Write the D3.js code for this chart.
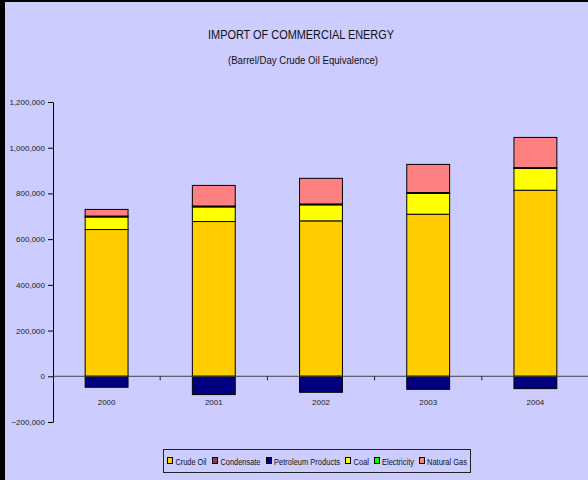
<!DOCTYPE html>
<html>
<head>
<meta charset="utf-8">
<script src="https://cdn.jsdelivr.net/npm/d3@7"></script>
<style>
  html, body { margin: 0; padding: 0; background: #000; }
  svg { display: block; }
  text { font-family: "Liberation Sans", Arial, sans-serif; }
</style>
</head>
<body>
<script>
// Import of commercial energy, barrels/day crude oil equivalence
const years = ["2000", "2001", "2002", "2003", "2004"];
const crudeOil = [642000, 677000, 680000, 709000, 814000];
const condensate = [0, 0, 0, 0, 0];
const petroleumProducts = [-48000, -80000, -70000, -57000, -54000];
const coal = [55000, 64000, 70000, 91000, 95000];
const electricity = [4000, 4000, 4000, 4000, 4000];
const naturalGas = [29000, 90000, 112000, 123000, 132000];
const yTicks = [-200000, 0, 200000, 400000, 600000, 800000, 1000000, 1200000];

const seriesNames = ["Crude Oil", "Condensate", "Petroleum Products", "Coal", "Electricity", "Natural Gas"];
const seriesValues = [crudeOil, condensate, petroleumProducts, coal, electricity, naturalGas];
const seriesColors = ["#FFCC00", "#993366", "#000080", "#FFFF00", "#00FF00", "#FF8080"];

const W = 588, H = 480;
const svg = d3.select("body").append("svg").attr("width", W).attr("height", H);

// chart area background (dark frame shows on the left and top)
svg.append("rect").attr("x", 5).attr("y", 2).attr("width", W - 5).attr("height", H - 2).attr("fill", "#CCCCFF");

svg.append("text").attr("x", 301).attr("y", 39).attr("text-anchor", "middle")
  .attr("font-size", 12).attr("fill", "#111")
  .attr("textLength", 186).attr("lengthAdjust", "spacingAndGlyphs")
  .text("IMPORT OF COMMERCIAL ENERGY");
svg.append("text").attr("x", 303).attr("y", 64).attr("text-anchor", "middle")
  .attr("font-size", 10).attr("fill", "#111")
  .attr("textLength", 150).attr("lengthAdjust", "spacingAndGlyphs")
  .text("(Barrel/Day Crude Oil Equivalence)");

const x0 = 53, x1 = 589;
const x = d3.scaleBand().domain(years).range([x0, x1]).paddingInner(0).paddingOuter(0);
const y = d3.scaleLinear().domain([-200000, 1200000]).range([422, 102]);

// stacked segments, positives upward and negatives downward from zero
const table = years.map((yr, i) => {
  const row = { year: yr };
  seriesNames.forEach((n, k) => row[n] = seriesValues[k][i]);
  return row;
});
const stack = d3.stack().keys(seriesNames).offset(d3.stackOffsetDiverging);
const layers = stack(table);

const barW = x.bandwidth() * 0.4;
const g = svg.append("g");
layers.forEach((layer, k) => {
  g.selectAll(null).data(layer.filter(d => d[1] !== d[0])).enter().append("rect")
    .attr("x", d => x(d.data.year) + (x.bandwidth() - barW) / 2)
    .attr("width", barW)
    .attr("y", d => y(Math.max(d[0], d[1])))
    .attr("height", d => Math.abs(y(d[0]) - y(d[1])))
    .attr("fill", seriesColors[k])
    .attr("stroke", "#000")
    .attr("stroke-width", 1);
});

// y axis
const yAxis = d3.axisLeft(y).tickValues(yTicks).tickSize(5).tickSizeOuter(0)
  .tickFormat(d3.format(","));
const ya = svg.append("g").attr("transform", `translate(${x0},0)`).call(yAxis);
ya.select(".domain").attr("stroke", "#000");
ya.selectAll(".tick line").attr("stroke", "#000");
ya.selectAll(".tick text").attr("font-size", 8).attr("fill", "#222")
  .attr("font-family", "'Liberation Sans', Arial, sans-serif").attr("x", -8);

// zero baseline with category ticks
const xa = svg.append("g").attr("transform", `translate(0,${y(0)})`);
xa.append("line").attr("x1", x0).attr("x2", W).attr("y1", 0).attr("y2", 0)
  .attr("stroke", "#444").attr("stroke-width", 1);
xa.selectAll(".ct").data(years.slice(1)).enter().append("line")
  .attr("x1", d => x(d)).attr("x2", d => x(d)).attr("y1", 0).attr("y2", 4)
  .attr("stroke", "#222");
xa.selectAll(".cl").data(years).enter().append("text")
  .attr("x", d => x(d) + x.bandwidth() / 2).attr("y", 29)
  .attr("text-anchor", "middle").attr("font-size", 8).attr("fill", "#222").text(d => d);

// legend
const lg = svg.append("g");
lg.append("rect").attr("x", 163.5).attr("y", 449.5).attr("width", 307).attr("height", 23)
  .attr("fill", "#CCCCFF").attr("stroke", "#222");
const boxX = [167.5, 212.5, 266.5, 345.5, 374.5, 419.5];
const textX = [175.5, 220.5, 274, 353.5, 382, 427];
const textW = [31, 40, 66, 15.5, 32, 40];
seriesNames.forEach((n, k) => {
  lg.append("rect").attr("x", boxX[k]).attr("y", 457.5).attr("width", 5).attr("height", 6)
    .attr("fill", seriesColors[k]).attr("stroke", "#000");
  lg.append("text").attr("x", textX[k]).attr("y", 464.5).attr("font-size", 8.5).attr("fill", "#111")
    .attr("textLength", textW[k]).attr("lengthAdjust", "spacingAndGlyphs").text(n);
});
</script>
</body>
</html>
